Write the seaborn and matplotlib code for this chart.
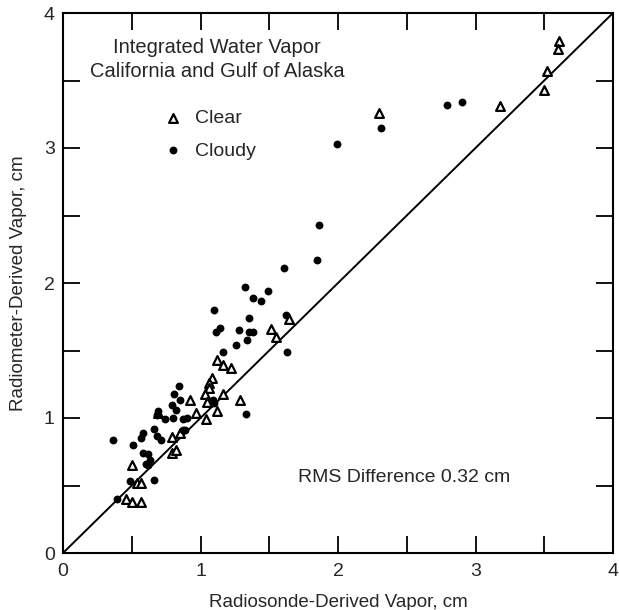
import pandas as pd
import numpy as np
import matplotlib
matplotlib.use("Agg")
import matplotlib.pyplot as plt
from matplotlib.ticker import MultipleLocator
import seaborn as sns

# radiosonde (x) vs radiometer (y) integrated water vapor, cm
clear_x = [3.61, 3.60, 3.52, 3.50, 3.18, 2.30,
           1.64, 1.51, 1.55, 1.12, 1.16, 1.22,
           1.08, 1.06, 1.06, 1.03, 1.16, 0.92, 1.05, 1.29,
           1.12, 0.97, 1.04, 0.69,
           0.79, 0.82, 0.79, 0.85, 0.50, 0.54, 0.57, 0.46, 0.50, 0.57]
clear_y = [3.79, 3.73, 3.57, 3.43, 3.31, 3.26,
           1.73, 1.66, 1.60, 1.43, 1.39, 1.37,
           1.30, 1.26, 1.22, 1.18, 1.18, 1.13, 1.12, 1.13,
           1.05, 1.04, 0.99, 1.04,
           0.74, 0.76, 0.86, 0.89, 0.65, 0.52, 0.52, 0.40, 0.38, 0.38]

cloudy_x = [2.90, 2.79, 2.31, 1.99, 1.86, 1.85, 1.61,
            1.32, 1.49, 1.38, 1.44, 1.10, 1.35, 1.62,
            1.14, 1.11, 1.28, 1.35, 1.38, 1.34, 1.26, 1.16, 1.63,
            1.33, 1.09, 1.10,
            0.84, 0.81, 0.85, 0.79, 0.82, 0.69, 0.68,
            0.74, 0.80, 0.87, 0.90, 0.87, 0.89,
            0.66, 0.58, 0.57, 0.68, 0.71, 0.36, 0.51,
            0.58, 0.62, 0.60, 0.62, 0.63, 0.66, 0.49, 0.39]
cloudy_y = [3.34, 3.32, 3.15, 3.03, 2.43, 2.17, 2.11,
            1.97, 1.94, 1.89, 1.87, 1.80, 1.74, 1.76,
            1.67, 1.64, 1.65, 1.64, 1.64, 1.58, 1.54, 1.49, 1.49,
            1.03, 1.13, 1.11,
            1.24, 1.18, 1.13, 1.10, 1.06, 1.05, 1.02,
            0.99, 1.00, 0.99, 1.00, 0.91, 0.91,
            0.92, 0.89, 0.85, 0.87, 0.84, 0.84, 0.80,
            0.74, 0.73, 0.66, 0.65, 0.69, 0.54, 0.53, 0.40]

ticks = [0, 1, 2, 3, 4]

df = pd.concat([
    pd.DataFrame({"sonde": clear_x, "radiometer": clear_y, "sky": "Clear"}),
    pd.DataFrame({"sonde": cloudy_x, "radiometer": cloudy_y, "sky": "Cloudy"}),
])

sns.set_theme(style="ticks")
plt.rcParams["font.family"] = ["Liberation Sans", "DejaVu Sans"]

fig = plt.figure(figsize=(6.19, 6.10), dpi=100)
ax = fig.add_axes([63 / 619, 57 / 610, 550 / 619, 540 / 610])

sns.scatterplot(data=df[df.sky == "Clear"], x="sonde", y="radiometer",
                marker="^", s=40, facecolor="white", edgecolor="black",
                linewidth=1.6, label="Clear", ax=ax, zorder=3)
sns.scatterplot(data=df[df.sky == "Cloudy"], x="sonde", y="radiometer",
                marker="o", s=32, color="black", edgecolor="black",
                linewidth=0, label="Cloudy", ax=ax, zorder=3)

ax.plot([0, 4], [0, 4], color="black", lw=1.4, zorder=2)

ax.set_xlim(0, 4)
ax.set_ylim(0, 4)
ax.set_xticks(ticks)
ax.set_yticks(ticks)
ax.xaxis.set_minor_locator(MultipleLocator(0.5))
ax.yaxis.set_minor_locator(MultipleLocator(0.5))
ax.tick_params(which="both", direction="in", length=12, width=1.3,
               top=True, right=True, color="black")
ax.tick_params(axis="x", labelsize=14, pad=7)
ax.tick_params(axis="y", labelsize=14, pad=6)
for s in ax.spines.values():
    s.set_linewidth(1.5)
    s.set_color("black")

ax.set_xlabel("Radiosonde-Derived Vapor, cm", fontsize=13.5, labelpad=10)
ax.set_ylabel("Radiometer-Derived Vapor, cm", fontsize=13.5, labelpad=12)

ax.text(1.12, 3.655, "Integrated Water Vapor\nCalifornia and Gulf of Alaska",
        ha="center", va="center", fontsize=14.5, linespacing=1.3)
ax.text(1.71, 0.56, "RMS Difference 0.32 cm", ha="left", va="center",
        fontsize=14)

ax.legend(loc="upper left", bbox_to_anchor=(0.19, 0.822), frameon=False,
          borderaxespad=0, borderpad=0, handlelength=0.6,
          handletextpad=0.83, labelspacing=0.78, fontsize=14)

fig.savefig("out.png", dpi=100)
